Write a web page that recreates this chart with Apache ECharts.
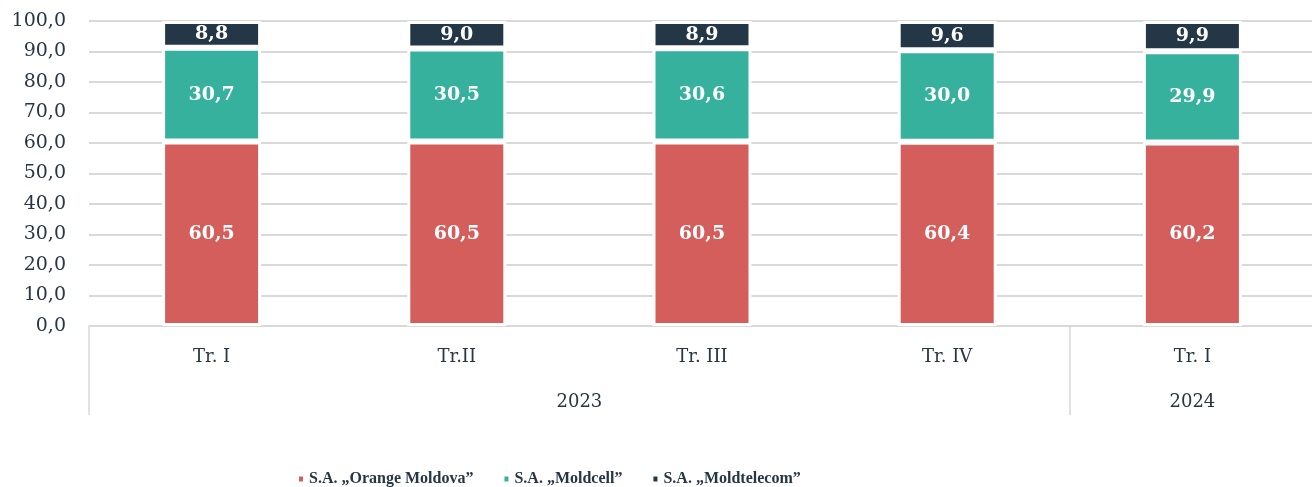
<!DOCTYPE html>
<html>
<head>
<meta charset="UTF-8">
<title>Cota de piata</title>
<style>
  html, body { margin: 0; padding: 0; background: #fff; }
  #chart { width: 1312px; height: 487px; }
</style>
</head>
<body>
<div id="chart"></div>
<script src="https://cdn.jsdelivr.net/npm/echarts@6/dist/echarts.min.js"></script>
<script>
// date din grafic
var quarters = ['Tr. I', 'Tr.II', 'Tr. III', 'Tr. IV', 'Tr. I'];
var years = ['2023', '2024'];
var yearPos = [2, 4.5]; // centrul fiecarui an pe axa categoriilor
var orange = [60.5, 60.5, 60.5, 60.4, 60.2];
var moldcell = [30.7, 30.5, 30.6, 30.0, 29.9];
var moldtelecom = [8.8, 9.0, 8.9, 9.6, 9.9];
var seriesNames = ['S.A. „Orange Moldova”', 'S.A. „Moldcell”', 'S.A. „Moldtelecom”'];

var font = 'DejaVu Serif';
var textColor = '#263645';

function fmt(v) {
	return Number(v).toFixed(1).replace('.', ',');
}

function barSeries(name, data, color) {
	return {
		name: name,
		type: 'bar',
		stack: 'total',
		barWidth: 99,
		data: data,
		itemStyle: {
			color: color,
			borderColor: '#ffffff',
			borderWidth: 3
		},
		label: {
			show: true,
			position: 'inside',
			color: '#ffffff',
			fontFamily: font,
			fontWeight: 'bold',
			fontSize: 19,
			formatter: function (p) { return fmt(p.value); }
		}
	};
}

var chart = echarts.init(document.getElementById('chart'));
chart.setOption({
	animation: false,
	textStyle: { fontFamily: font },
	grid: {
		left: 89,
		right: -3,
		top: 21,
		bottom: 161,
		containLabel: false,
		outerBoundsMode: 'none'
	},
	legend: {
		left: 292,
		top: 466,
		itemWidth: 6,
		itemHeight: 7,
		itemGap: 29,
		icon: 'rect',
		textStyle: {
			fontFamily: 'Liberation Serif',
			fontWeight: 'bold',
			fontSize: 16,
			color: textColor
		},
		data: seriesNames
	},
	xAxis: [{
		type: 'category',
		data: quarters,
		axisLine: { lineStyle: { color: '#d9d9d9', width: 1.5 } },
		axisTick: {
			show: true,
			length: 89,
			interval: function (index) { return index === 0 || index === 4; },
			lineStyle: { color: '#d9d9d9', width: 1.5 }
		},
		axisLabel: {
			color: textColor,
			fontSize: 18,
			margin: 22,
			interval: 0
		}
	}, {
		type: 'value',
		position: 'bottom',
		min: 0,
		max: 5,
		axisLine: { show: false },
		axisTick: { show: false },
		splitLine: { show: false },
		axisLabel: {
			color: textColor,
			fontSize: 18,
			margin: 67,
			customValues: yearPos,
			formatter: function (v) {
				return years[yearPos.indexOf(v)] || '';
			}
		}
	}],
	yAxis: {
		type: 'value',
		min: 0,
		max: 100,
		interval: 10,
		axisLine: { show: false },
		axisTick: { show: false },
		splitLine: { lineStyle: { color: '#d9d9d9', width: 2 } },
		axisLabel: {
			color: textColor,
			fontSize: 19,
			margin: 23,
			formatter: fmt
		}
	},
	series: [
		barSeries(seriesNames[0], orange, '#d45e5b'),
		barSeries(seriesNames[1], moldcell, '#36b19d'),
		barSeries(seriesNames[2], moldtelecom, '#243746')
	]
});
</script>
</body>
</html>
